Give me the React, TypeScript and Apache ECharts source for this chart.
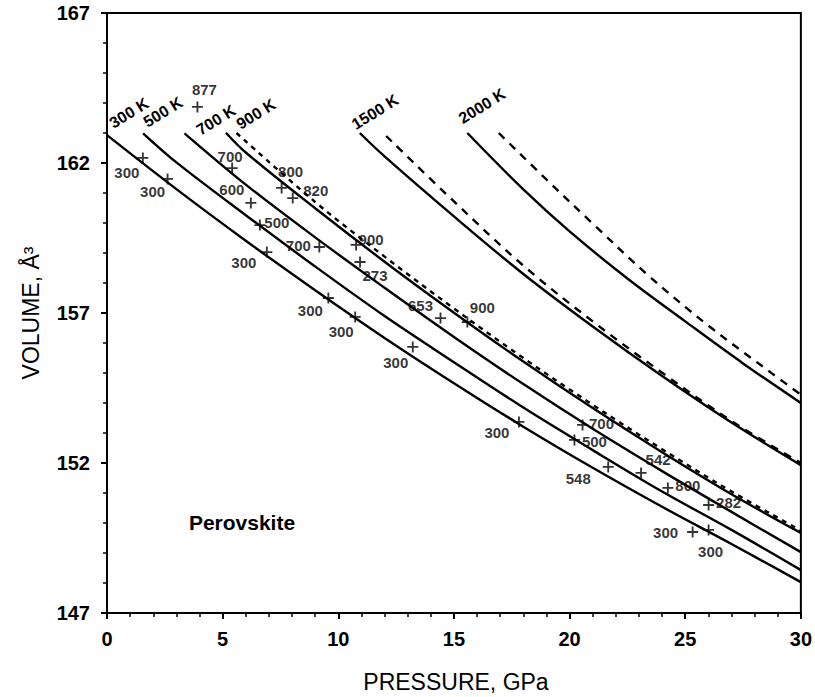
import React, { useEffect, useRef } from "react";
import * as echarts from "echarts";

// Isotherms (pressure GPa, volume Å³)
const K300_P = [0, 3, 6, 9, 12, 15, 18, 21, 24, 27, 30];
const K300_V = [162.93, 161.13, 159.41, 157.76, 156.17, 154.66, 153.21, 151.84, 150.54, 149.3, 148.03];
const K500_P = [1.56, 3, 6, 9, 12, 15, 18, 21, 24, 27, 30];
const K500_V = [162.99, 162.02, 160.26, 158.55, 156.9, 155.36, 153.85, 152.43, 151.05, 149.77, 148.43];
const K700_P = [3.35, 6, 9, 12, 15, 18, 21, 24, 27, 30];
const K700_V = [162.99, 161.28, 159.52, 157.84, 156.2, 154.63, 153.14, 151.73, 150.37, 149.03];
const K900_P = [5.14, 6, 9, 12, 15, 18, 21, 24, 27, 30];
const K900_V = [163.01, 162.35, 160.49, 158.71, 157.01, 155.38, 153.83, 152.36, 150.96, 149.67];
const K900D_P = [5.6, 9, 12, 15, 18, 21, 24, 27, 30];
const K900D_V = [163.0, 160.7, 158.88, 157.15, 155.5, 153.94, 152.46, 151.05, 149.75];
const K1500_P = [10.93, 12, 15, 18, 21, 24, 27, 30];
const K1500_V = [163.0, 162.22, 160.22, 158.3, 156.55, 154.9, 153.35, 151.93];
const K1500D_P = [12.07, 15, 18, 21, 24, 27, 30];
const K1500D_V = [162.9, 160.72, 158.58, 156.72, 155.01, 153.4, 152.0];
const K2000_P = [15.58, 18, 20, 22.5, 25, 27.5, 30];
const K2000_V = [163.0, 161.12, 159.72, 158.15, 156.72, 155.32, 154.0];
const K2000D_P = [16.94, 19, 21, 23.45, 26, 28.76, 30];
const K2000D_V = [163.0, 161.45, 159.98, 158.22, 156.58, 154.98, 154.28];

// Measured points
const POINT_P = [1.55, 2.62, 3.91, 5.41, 6.22, 6.61, 6.91, 9.18, 7.55, 8.03, 10.77, 10.94, 9.57, 10.73, 14.42, 15.58, 13.22, 17.81, 20.56, 20.21, 21.67, 23.09, 24.25, 26.01, 25.32, 26.01];
const POINT_V = [162.17, 161.47, 163.87, 161.83, 160.67, 159.93, 159.03, 159.2, 161.17, 160.83, 159.27, 158.7, 157.5, 156.87, 156.83, 156.7, 155.87, 153.37, 153.27, 152.77, 151.87, 151.67, 151.17, 150.6, 149.7, 149.77];
const POINT_T = ["300", "300", "877", "700", "600", "500", "300", "700", "800", "820", "900", "273", "300", "300", "653", "900", "300", "300", "700", "500", "548", "542", "800", "282", "300", "300"];

const X_TICKS = [0, 5, 10, 15, 20, 25, 30];
const Y_TICKS = [147, 152, 157, 162, 167];

const CURVE_LABELS = ["300 K", "500 K", "700 K", "900 K", "1500 K", "2000 K"];

// layout only
const LABEL_OFFSETS = [[-16, 15], [-15, 13], [7, -17], [-2, -12], [-19, -13], [17, -3], [-23, 10], [-21, -2], [9, -16], [23, -8], [15, -5], [15, 13], [-18, 12], [-14, 15], [-20, -13], [15, -15], [-17, 16], [-22, 11], [19, -1], [20, 2], [-30, 12], [17, -13], [20, -2], [20, -3], [-27, 0], [2, 22]];
const CURVE_LABEL_POS = [[129, 113], [163, 112], [216, 120], [256, 114], [375, 112], [482, 106]];

const FONT = "'Liberation Sans', Arial, Helvetica, sans-serif";
const PLUS = "path://M5,0h2v5h5v2h-5v5h-2v-5h-5v-2h5z";

function zip(ps: number[], vs: number[]) {
  return ps.map((p, i) => [p, vs[i]]);
}

function lineSeries(name: string, ps: number[], vs: number[], dashed: false | number[]) {
  return {
    name,
    type: "line",
    data: zip(ps, vs),
    smooth: 0.35,
    showSymbol: false,
    symbol: "none",
    silent: true,
    lineStyle: { color: "#000", width: 2.4, type: dashed ? dashed : "solid" },
    z: 2,
  };
}

export default function App() {
  const ref = useRef<HTMLDivElement>(null);
  useEffect(() => {
    if (!ref.current) return;
    const chart = echarts.init(ref.current, null, { renderer: "svg" });
    const option: any = {
      animation: false,
      backgroundColor: "#fff",
      grid: { left: 107, top: 13, width: 699, height: 600, show: true, borderColor: "#000", borderWidth: 2 },
      xAxis: {
        type: "value",
        min: X_TICKS[0],
        max: X_TICKS[X_TICKS.length - 1],
        interval: 5,
        axisLine: { show: true, lineStyle: { color: "#000", width: 2 } },
        axisTick: { show: true, length: 6, lineStyle: { color: "#000", width: 2 } },
        minorTick: { show: true, splitNumber: 5, length: 4, lineStyle: { color: "#000", width: 1.5 } },
        splitLine: { show: false },
        axisLabel: { color: "#000", fontFamily: FONT, fontWeight: "bold", fontSize: 20, margin: 16 },
      },
      yAxis: {
        type: "value",
        min: Y_TICKS[0],
        max: Y_TICKS[Y_TICKS.length - 1],
        interval: 5,
        axisLine: { show: true, lineStyle: { color: "#000", width: 2 } },
        axisTick: { show: true, length: 6, lineStyle: { color: "#000", width: 2 } },
        minorTick: { show: true, splitNumber: 5, length: 4, lineStyle: { color: "#000", width: 1.5 } },
        splitLine: { show: false },
        axisLabel: { color: "#000", fontFamily: FONT, fontWeight: "bold", fontSize: 20, margin: 17 },
      },
      series: [
        lineSeries("300 K", K300_P, K300_V, false),
        lineSeries("500 K", K500_P, K500_V, false),
        lineSeries("700 K", K700_P, K700_V, false),
        lineSeries("900 K", K900_P, K900_V, false),
        lineSeries("900 K dashed", K900D_P, K900D_V, [5, 5]),
        lineSeries("1500 K", K1500_P, K1500_V, false),
        lineSeries("1500 K dashed", K1500D_P, K1500D_V, [8, 7]),
        lineSeries("2000 K", K2000_P, K2000_V, false),
        lineSeries("2000 K dashed", K2000D_P, K2000D_V, [8, 7]),
        {
          type: "scatter",
          symbol: PLUS,
          symbolSize: 11,
          itemStyle: { color: "#000" },
          z: 3,
          label: {
            show: true,
            position: "inside",
            color: "#000",
            fontFamily: FONT,
            fontWeight: "bold",
            fontSize: 15,
          },
          data: POINT_P.map((p, i) => ({
            value: [p, POINT_V[i]],
            label: { offset: LABEL_OFFSETS[i], formatter: POINT_T[i] },
          })),
        },
      ],
      graphic: [
        ...CURVE_LABELS.map((t, i) => ({
          type: "text",
          x: CURVE_LABEL_POS[i][0],
          y: CURVE_LABEL_POS[i][1],
          rotation: (32 * Math.PI) / 180,
          style: { text: t, fontFamily: FONT, fontWeight: "bold", fontSize: 16, fill: "#000", align: "center", verticalAlign: "middle" },
        })),
        {
          type: "text",
          x: 242,
          y: 522,
          style: { text: "Perovskite", fontFamily: FONT, fontWeight: "bold", fontSize: 21, fill: "#000", align: "center", verticalAlign: "middle" },
        },
        {
          type: "text",
          x: 456,
          y: 682,
          style: { text: "PRESSURE, GPa", fontFamily: FONT, fontSize: 23, fill: "#000", align: "center", verticalAlign: "middle" },
        },
        {
          type: "text",
          x: 31,
          y: 313,
          rotation: Math.PI / 2,
          style: { text: "VOLUME, Å³", fontFamily: FONT, fontSize: 23, fill: "#000", align: "center", verticalAlign: "middle" },
        },
      ],
    };
    chart.setOption(option);
    return () => chart.dispose();
  }, []);
  return <div ref={ref} style={{ position: "absolute", left: 0, top: 0, width: 815, height: 697, background: "#fff" }} />;
}
